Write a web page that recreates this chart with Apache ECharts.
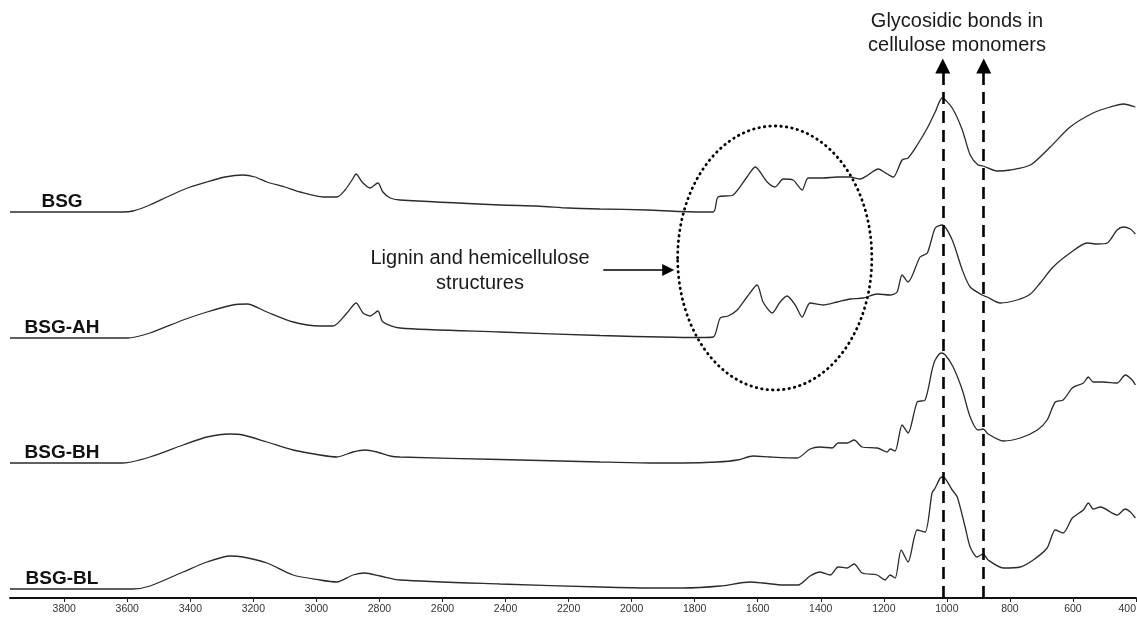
<!DOCTYPE html>
<html><head><meta charset="utf-8">
<script src="https://cdn.jsdelivr.net/npm/echarts@6/dist/echarts.min.js"></script>
<style>html,body{margin:0;padding:0;background:#fff}#c{width:1137px;height:619px}</style>
</head><body><div id="c"></div><script>
// x: wavenumber (cm-1), y: stacked absorbance (arbitrary units)
const wavenumberTicks = [400,600,800,1000,1200,1400,1600,1800,2000,2200,2400,2600,2800,3000,3200,3400,3600,3800];
const sampleNames = ['BSG','BSG-AH','BSG-BH','BSG-BL'];

const bsg = [[3972,386],[3614,386],[3582,387],[3528,393],[3474,401],[3417,409],[3347,416],[3290,421],[3233,423],[3195,421],[3157,416],[3100,411],[3052,406],[2979,401],[2935,401],[2909,408],[2887,418],[2874,424],[2855,416],[2830,410],[2805,415],[2789,406],[2766,400],[2735,398],[2417,393],[2300,392],[2200,390],[2100,389],[1950,388],[1846,386.5],[1741,386],[1726,401],[1678,403],[1634,421],[1608,431],[1570,416],[1545,411],[1519,419],[1488,418],[1459,408],[1440,420],[1392,420],[1348,421],[1307,421],[1275,419],[1250,423],[1218,429],[1189,424],[1170,421],[1142,438],[1123,440],[1094,453],[1062,470],[1037,486],[1015,500],[983,490],[951,468],[926,443],[901,433],[885,432],[840,427],[799,428],[735,433],[672,451],[609,471],[536,485],[482,491],[440,494],[402,491]];

const bsgAH = [[3972,260],[3601,260],[3528,265],[3423,278],[3347,286],[3265,293],[3220,294],[3157,286],[3074,276],[2989,272],[2947,272],[2903,285],[2874,295],[2852,285],[2830,282],[2805,287],[2789,276],[2735,270],[2417,266],[2100,262.5],[1783,260.5],[1741,261],[1719,280],[1694,282],[1665,288],[1634,301],[1602,313],[1583,296],[1554,285],[1529,296],[1507,302],[1481,293],[1459,281],[1434,295],[1392,293],[1348,296],[1307,299],[1265,300],[1221,304],[1180,303],[1158,306],[1142,323],[1123,316],[1085,341],[1062,345],[1037,370],[1015,373],[983,358],[951,328],[926,311],[888,303],[872,301],[831,295],[777,298],[735,304],[704,315],[663,331],[609,345],[555,355],[523,354],[491,355],[460,368],[440,371],[418,369],[402,364]];

const bsgBH = [[3972,135],[3614,135],[3528,141],[3423,153],[3347,161],[3274,164],[3233,163],[3157,156],[3074,148],[2989,143],[2935,141],[2884,146],[2846,148],[2808,146],[2766,142],[2735,141],[2417,138.5],[2100,136],[1941,135],[1837,135],[1729,136],[1665,138],[1614,142],[1561,141],[1475,140],[1434,149],[1402,151],[1364,150],[1345,155],[1316,155],[1294,158],[1269,151],[1221,150],[1189,146],[1180,149],[1164,147],[1142,173],[1123,165],[1094,196],[1069,198],[1047,228],[1037,238],[1018,245],[1005,243],[980,231],[951,208],[926,181],[901,168],[885,169],[869,164],[821,157],[767,160],[713,168],[682,178],[656,196],[631,198],[602,210],[567,215],[551,221],[536,216],[504,216],[460,215],[434,223],[412,218],[402,213]];

const bsgBL = [[3972,9],[3582,9],[3528,12],[3423,26],[3347,36],[3274,42],[3233,41],[3157,35],[3074,23],[2989,18],[2935,16],[2884,23],[2846,25],[2798,22],[2735,18],[2417,14],[2100,11],[1941,10],[1837,10],[1719,12],[1624,16],[1583,15],[1519,13],[1472,13],[1434,22],[1402,26],[1370,23],[1345,31],[1316,30],[1294,34],[1269,25],[1221,23],[1196,18],[1180,23],[1164,20],[1145,48],[1123,36],[1094,68],[1069,66],[1047,105],[1037,110],[1021,120],[1012,121],[983,108],[967,101],[942,71],[926,51],[904,41],[885,44],[869,38],[821,30],[767,31],[726,38],[682,50],[656,68],[631,65],[602,80],[567,88],[551,95],[536,89],[513,91],[460,83],[434,89],[418,86],[402,80]];

const spectra = [bsg, bsgAH, bsgBH, bsgBL];
const glycosidicBands = [1013, 883];
const labelWavenumber = 3807;
// annotation anchors (data coordinates)
const ligninEllipse = {wnFrom:1854, wnTo:1238, yFrom:208, yTo:472};
const ligninArrow = {wnFrom:2090, wnTo:1884, y:328};
const bandArrowTop = 532;

const chart = echarts.init(document.getElementById('c'), null, {renderer:'canvas'});

const markLineData = glycosidicBands.map(w => [
  {coord:[w,0]},
  {coord:[w,bandArrowTop], symbol:'triangle', symbolSize:15}
]);
markLineData.push([
  {coord:[ligninArrow.wnFrom, ligninArrow.y], lineStyle:{type:'solid', width:1.5, color:'#000'}},
  {coord:[ligninArrow.wnTo, ligninArrow.y], symbol:'triangle', symbolSize:12, lineStyle:{type:'solid', width:1.5, color:'#000'}}
]);

const series = sampleNames.map((n, i) => ({
  type:'line', name:n, data:spectra[i], symbol:'none', showSymbol:false,
  smooth:0.25, silent:true, animation:false,
  lineStyle:{color:'#2b2b2b', width:1.3},
  markPoint: {
    symbol:'circle', symbolSize:0, silent:true, animation:false,
    data:[{coord:[labelWavenumber, spectra[i][0][1]], value:n}],
    label:{show:true, position:'top', distance:1, formatter:n,
      fontWeight:'bold', fontSize:19, fontFamily:'Arial, Liberation Sans', color:'#111'}
  },
  markLine: i === 0 ? {
    silent:true, animation:false, symbol:['none','none'],
    label:{show:false},
    lineStyle:{type:[12,7], width:2.6, color:'#000'},
    data: markLineData
  } : undefined
}));

chart.setOption({
  backgroundColor:'#fff',
  animation:false,
  grid:{left:10, right:1, top:0, bottom:21, containLabel:false, outerBoundsMode:'none'},
  xAxis:{
    type:'value', inverse:true, min:400, max:3972,
    axisLine:{show:true, lineStyle:{color:'#111', width:2}},
    axisTick:{show:true, customValues:wavenumberTicks, length:4, lineStyle:{color:'#222', width:1}},
    axisLabel:{show:true, customValues:wavenumberTicks, margin:6, fontSize:10.5,
      formatter: v => String(v),
      fontFamily:'Arial, Liberation Sans', color:'#333', alignMinLabel:'right'},
    splitLine:{show:false}
  },
  yAxis:{type:'value', min:0, max:598, show:false, splitLine:{show:false}},
  series: series
});

const p1 = chart.convertToPixel({gridIndex:0}, [ligninEllipse.wnFrom, ligninEllipse.yFrom]);
const p2 = chart.convertToPixel({gridIndex:0}, [ligninEllipse.wnTo, ligninEllipse.yTo]);
chart.setOption({
  graphic:[
    {type:'ellipse', silent:true,
      shape:{cx:(p1[0]+p2[0])/2, cy:(p1[1]+p2[1])/2, rx:Math.abs(p2[0]-p1[0])/2, ry:Math.abs(p2[1]-p1[1])/2},
      style:{fill:'none', stroke:'#000', lineWidth:2.8, lineDash:[0.5,5], lineCap:'round'}},
    {type:'text', silent:true, x:480, y:270.5,
      style:{text:'Lignin and hemicellulose\nstructures', fontSize:20, fontFamily:'Arial, Liberation Sans',
        fill:'#1a1a1a', align:'center', verticalAlign:'middle', lineHeight:25}},
    {type:'text', silent:true, x:957, y:33,
      style:{text:'Glycosidic bonds in\ncellulose monomers', fontSize:20, fontFamily:'Arial, Liberation Sans',
        fill:'#1a1a1a', align:'center', verticalAlign:'middle', lineHeight:24}}
  ]
});
</script></body></html>
